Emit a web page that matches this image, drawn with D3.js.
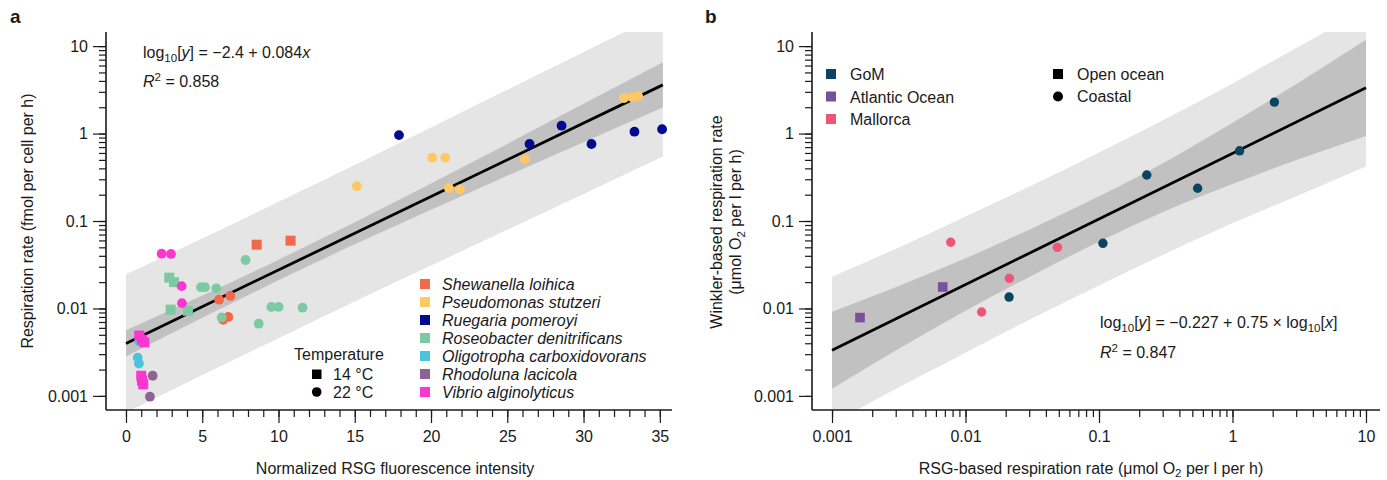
<!DOCTYPE html>
<html>
<head>
<meta charset="utf-8">
<script src="https://cdn.jsdelivr.net/npm/d3@7"></script>
<style>
body { margin: 0; background: #fff; }
text { font-family: "Liberation Sans", Arial, Helvetica, sans-serif; fill: #1a1a1a; }
</style>
</head>
<body>
<div id="chart"></div>
<script>
// ---- panel a data: [fluorescence, respiration, temperature] ----
const species = ["Shewanella loihica", "Pseudomonas stutzeri", "Ruegaria pomeroyi", "Roseobacter denitrificans",
                 "Oligotropha carboxidovorans", "Rhodoluna lacicola", "Vibrio alginolyticus"];
const speciesColors = ["#f0694a", "#fec862", "#000b92", "#7dcaa2", "#4cc3dc", "#8e6394", "#fb35cf"];

const shewanellaPts = [[8.57, 0.0536, 14], [10.79, 0.0596, 14], [6.10, 0.0126, 22], [6.84, 0.0139, 22],
                       [6.38, 0.0074, 22], [6.71, 0.0080, 22]];
const pseudomonasPts = [[15.14, 0.25, 22], [20.08, 0.53, 22], [20.93, 0.53, 22], [21.17, 0.238, 22],
                        [21.89, 0.23, 22], [26.15, 0.51, 22], [32.66, 2.55, 22], [33.19, 2.6, 22], [33.58, 2.68, 22]];
const ruegeriaPts = [[17.9, 0.96, 22], [26.46, 0.76, 22], [28.56, 1.23, 22], [30.52, 0.76, 22],
                     [33.34, 1.05, 22], [35.15, 1.12, 22]];
const roseobacterPts = [[2.84, 0.0225, 14], [3.15, 0.020, 14], [2.93, 0.0097, 14], [4.06, 0.0094, 14],
                        [7.84, 0.0358, 22], [4.92, 0.0175, 22], [5.18, 0.0175, 22], [5.92, 0.017, 22],
                        [6.27, 0.0079, 22], [8.70, 0.0067, 22], [9.53, 0.0104, 22], [10.01, 0.0104, 22], [11.58, 0.0102, 22]];
const oligotrophaPts = [[0.77, 0.00274, 22], [0.85, 0.00234, 22], [0.87, 0.0042, 22]];
const rhodolunaPts = [[1.75, 0.0017, 22], [1.57, 0.00098, 22]];
const vibrioPts = [[2.34, 0.0423, 22], [2.95, 0.042, 22], [3.65, 0.018, 22], [3.67, 0.0115, 22],
                   [0.87, 0.0049, 14], [1.05, 0.0044, 14], [1.2, 0.0041, 14],
                   [1.0, 0.0017, 14], [1.05, 0.0015, 14], [1.13, 0.00136, 14]];
const speciesPts = [shewanellaPts, pseudomonasPts, ruegeriaPts, roseobacterPts, oligotrophaPts, rhodolunaPts, vibrioPts];

// fit a: log10[y] = -2.4 + 0.084x, band half widths (in decades)
const fitA = {a: -2.4, b: 0.084};
const bandAx = [0, 5, 10, 15, 20, 25, 30, 35.2];
const bandAconf = [0.15, 0.127, 0.118, 0.127, 0.15, 0.182, 0.22, 0.26];
const bandApred = [0.79, 0.78, 0.78, 0.78, 0.79, 0.80, 0.81, 0.82];

const xTicksA = [0, 5, 10, 15, 20, 25, 30, 35];
const yTickVals = [0.001, 0.01, 0.1, 1, 10];
const yTickLabels = ["0.001", "0.01", "0.1", "1", "10"];

// ---- panel b data: [RSG-based, Winkler-based, site type] ----
const sites = ["GoM", "Atlantic Ocean", "Mallorca"];
const siteColors = ["#0b4462", "#7b509b", "#ef5676"];
const gomPts = [[0.0212, 0.0135, "coastal"], [0.107, 0.0556, "coastal"], [0.228, 0.336, "coastal"],
                [0.548, 0.237, "coastal"], [1.13, 0.635, "coastal"], [2.06, 2.29, "coastal"]];
const atlanticPts = [[0.00162, 0.00786, "open"], [0.00675, 0.0176, "open"]];
const mallorcaPts = [[0.00775, 0.0571, "coastal"], [0.0132, 0.00912, "coastal"], [0.0213, 0.0221, "coastal"],
                     [0.0488, 0.05, "coastal"]];
const sitePts = [gomPts, atlanticPts, mallorcaPts];

const fitB = {a: -0.227, b: 0.75};
const bandBlogx = [-3, -2.5, -2, -1.5, -1, -0.5, 0, 0.5, 1];
const bandBconf = [0.44, 0.36, 0.30, 0.27, 0.26, 0.28, 0.35, 0.44, 0.55];
const bandBpred = [0.84, 0.80, 0.78, 0.76, 0.76, 0.77, 0.80, 0.85, 0.90];
const xTickValsB = [0.001, 0.01, 0.1, 1, 10];
const xTickLabelsB = ["0.001", "0.01", "0.1", "1", "10"];

const W = 1387, H = 480;
const FS = 16, SUB = 11.5;
const svg = d3.select("#chart").append("svg").attr("width", W).attr("height", H);

const plotTop = 32, plotBottom = 410;
const yScale = d3.scaleLog().domain([0.00069, 14.5]).range([plotBottom, plotTop]);
const xA = d3.scaleLinear().domain([-1.31, 35.8]).range([106, 672]);
const xB = d3.scaleLog().domain([Math.pow(10, -3.15), Math.pow(10, 1.105)]).range([812, 1380]);

const minorLog = [];
for (let e = -3; e <= 1; e++) for (let m = 1; m <= 9; m++) minorLog.push(m * Math.pow(10, e));

const defs = svg.append("defs");
defs.append("clipPath").attr("id", "clipA").append("rect")
	.attr("x", 106).attr("y", plotTop).attr("width", 566).attr("height", plotBottom - plotTop);
defs.append("clipPath").attr("id", "clipB").append("rect")
	.attr("x", 812).attr("y", plotTop).attr("width", 568).attr("height", plotBottom - plotTop);

function drawYAxis(x) {
	let minor = svg.append("g").attr("transform", "translate(" + x + ",0)")
		.call(d3.axisLeft(yScale).tickValues(minorLog.filter(v => v >= 0.00069 && v <= 14.5)).tickSize(7).tickFormat(""));
	minor.select(".domain").remove();
	let major = svg.append("g").attr("transform", "translate(" + x + ",0)")
		.call(d3.axisLeft(yScale).tickValues(yTickVals).tickSize(13).tickPadding(5)
			.tickFormat((d, i) => yTickLabels[i]));
	major.select(".domain").attr("d", "M0," + plotTop + "V" + plotBottom);
	svg.selectAll(".tick line").attr("stroke", "#1a1a1a").attr("stroke-width", 1.2);
	major.selectAll("text").attr("font-size", FS).attr("fill", "#1a1a1a");
	major.select(".domain").attr("stroke", "#1a1a1a").attr("stroke-width", 1.6);
}

// ================= panel a =================
let gA = svg.append("g").attr("clip-path", "url(#clipA)");
let bandA = bandAx.map((x, i) => ({x: x, c: bandAconf[i], p: bandApred[i]}));
let yFitA = x => Math.pow(10, fitA.a + fitA.b * x);
gA.append("path").datum(bandA)
	.attr("d", d3.area().x(d => xA(d.x))
		.y0(d => yScale(yFitA(d.x) / Math.pow(10, d.p))).y1(d => yScale(yFitA(d.x) * Math.pow(10, d.p)))
		.curve(d3.curveMonotoneX))
	.attr("fill", "#e5e5e5");
gA.append("path").datum(bandA)
	.attr("d", d3.area().x(d => xA(d.x))
		.y0(d => yScale(yFitA(d.x) / Math.pow(10, d.c))).y1(d => yScale(yFitA(d.x) * Math.pow(10, d.c)))
		.curve(d3.curveMonotoneX))
	.attr("fill", "#c1c1c1");
gA.append("path").datum([0, 35.2])
	.attr("d", d3.line().x(d => xA(d)).y(d => yScale(yFitA(d))))
	.attr("stroke", "#000").attr("stroke-width", 2.8).attr("fill", "none");

speciesPts.forEach((pts, i) => {
	let g = svg.append("g");
	g.selectAll("circle").data(pts.filter(p => p[2] == 22)).enter().append("circle")
		.attr("cx", d => xA(d[0])).attr("cy", d => yScale(d[1])).attr("r", 4.9)
		.attr("fill", speciesColors[i]);
	g.selectAll("rect").data(pts.filter(p => p[2] == 14)).enter().append("rect")
		.attr("x", d => xA(d[0]) - 5).attr("y", d => yScale(d[1]) - 5).attr("width", 10).attr("height", 10)
		.attr("fill", speciesColors[i]);
});

// axes a
let xAxA = svg.append("g").attr("transform", "translate(0," + plotBottom + ")")
	.call(d3.axisBottom(xA).tickValues(d3.range(0, 36)).tickSize(7).tickFormat(""));
xAxA.select(".domain").remove();
let xMajA = svg.append("g").attr("transform", "translate(0," + plotBottom + ")")
	.call(d3.axisBottom(xA).tickValues(xTicksA).tickSize(13).tickPadding(8));
xMajA.select(".domain").attr("d", "M106,0H672").attr("stroke", "#1a1a1a").attr("stroke-width", 1.6);
xMajA.selectAll("text").attr("font-size", FS).attr("fill", "#1a1a1a");
drawYAxis(106);

svg.append("text").attr("x", 395).attr("y", 474).attr("text-anchor", "middle").attr("font-size", FS)
	.text("Normalized RSG fluorescence intensity");
svg.append("text").attr("transform", "translate(33,221) rotate(-90)").attr("text-anchor", "middle")
	.attr("font-size", FS).text("Respiration rate (fmol per cell per h)");

// equation a
let eqA = svg.append("text").attr("x", 143).attr("y", 58).attr("font-size", FS);
eqA.append("tspan").text("log");
eqA.append("tspan").attr("font-size", SUB).attr("dy", 4).text("10");
eqA.append("tspan").attr("dy", -4).text("[");
eqA.append("tspan").attr("font-style", "italic").text("y");
eqA.append("tspan").text("] = \u22122.4 + 0.084");
eqA.append("tspan").attr("font-style", "italic").text("x");
let r2A = svg.append("text").attr("x", 143).attr("y", 87).attr("font-size", FS);
r2A.append("tspan").attr("font-style", "italic").text("R");
r2A.append("tspan").attr("font-size", SUB).attr("dy", -6).text("2");
r2A.append("tspan").attr("dy", 6).text(" = 0.858");

// species legend
let legA = svg.append("g");
species.forEach((s, i) => {
	legA.append("rect").attr("x", 420).attr("y", 279 + i * 18).attr("width", 10).attr("height", 10)
		.attr("fill", speciesColors[i]);
	legA.append("text").attr("x", 442).attr("y", 289.5 + i * 18).attr("font-size", FS)
		.attr("font-style", "italic").text(s);
});
svg.append("text").attr("x", 294).attr("y", 360).attr("font-size", FS).text("Temperature");
svg.append("rect").attr("x", 312).attr("y", 369.5).attr("width", 9.5).attr("height", 9.5).attr("fill", "#000");
svg.append("text").attr("x", 333).attr("y", 379.5).attr("font-size", FS).text("14 \u00b0C");
svg.append("circle").attr("cx", 316.7).attr("cy", 392).attr("r", 4.8).attr("fill", "#000");
svg.append("text").attr("x", 333).attr("y", 397.5).attr("font-size", FS).text("22 \u00b0C");

// ================= panel b =================
let gB = svg.append("g").attr("clip-path", "url(#clipB)");
let bandB = bandBlogx.map((lx, i) => ({x: Math.pow(10, lx), c: bandBconf[i], p: bandBpred[i]}));
let yFitB = x => Math.pow(10, fitB.a + fitB.b * Math.log10(x));
gB.append("path").datum(bandB)
	.attr("d", d3.area().x(d => xB(d.x))
		.y0(d => yScale(yFitB(d.x) / Math.pow(10, d.p))).y1(d => yScale(yFitB(d.x) * Math.pow(10, d.p)))
		.curve(d3.curveMonotoneX))
	.attr("fill", "#e5e5e5");
gB.append("path").datum(bandB)
	.attr("d", d3.area().x(d => xB(d.x))
		.y0(d => yScale(yFitB(d.x) / Math.pow(10, d.c))).y1(d => yScale(yFitB(d.x) * Math.pow(10, d.c)))
		.curve(d3.curveMonotoneX))
	.attr("fill", "#c1c1c1");
gB.append("path").datum([0.001, 10])
	.attr("d", d3.line().x(d => xB(d)).y(d => yScale(yFitB(d))))
	.attr("stroke", "#000").attr("stroke-width", 2.8).attr("fill", "none");

sitePts.forEach((pts, i) => {
	let g = svg.append("g");
	g.selectAll("circle").data(pts.filter(p => p[2] == "coastal")).enter().append("circle")
		.attr("cx", d => xB(d[0])).attr("cy", d => yScale(d[1])).attr("r", 4.7)
		.attr("fill", siteColors[i]);
	g.selectAll("rect").data(pts.filter(p => p[2] == "open")).enter().append("rect")
		.attr("x", d => xB(d[0]) - 4.8).attr("y", d => yScale(d[1]) - 4.8).attr("width", 9.6).attr("height", 9.6)
		.attr("fill", siteColors[i]);
});

let xAxB = svg.append("g").attr("transform", "translate(0," + plotBottom + ")")
	.call(d3.axisBottom(xB).tickValues(minorLog.filter(v => v <= 12)).tickSize(7).tickFormat(""));
xAxB.select(".domain").remove();
let xMajB = svg.append("g").attr("transform", "translate(0," + plotBottom + ")")
	.call(d3.axisBottom(xB).tickValues(xTickValsB).tickSize(13).tickPadding(8)
		.tickFormat((d, i) => xTickLabelsB[i]));
xMajB.select(".domain").attr("d", "M812,0H1380").attr("stroke", "#1a1a1a").attr("stroke-width", 1.6);
xMajB.selectAll("text").attr("font-size", FS).attr("fill", "#1a1a1a");
drawYAxis(812);

let xlabB = svg.append("text").attr("x", 1091).attr("y", 474).attr("text-anchor", "middle").attr("font-size", FS);
xlabB.append("tspan").text("RSG-based respiration rate (\u03bcmol O");
xlabB.append("tspan").attr("font-size", SUB).attr("dy", 3).text("2");
xlabB.append("tspan").attr("dy", -3).text(" per l per h)");

svg.append("text").attr("transform", "translate(722,222) rotate(-90)").attr("text-anchor", "middle")
	.attr("font-size", FS).text("Winkler-based respiration rate");
let ylabB = svg.append("text").attr("transform", "translate(741,222) rotate(-90)").attr("text-anchor", "middle")
	.attr("font-size", FS);
ylabB.append("tspan").text("(\u03bcmol O");
ylabB.append("tspan").attr("font-size", SUB).attr("dy", 4).text("2");
ylabB.append("tspan").attr("dy", -4).text(" per l per h)");

// site legend
sites.forEach((s, i) => {
	svg.append("rect").attr("x", 826).attr("y", 69 + i * 22.5).attr("width", 10).attr("height", 10)
		.attr("fill", siteColors[i]);
	svg.append("text").attr("x", 850).attr("y", 80 + i * 22.5).attr("font-size", FS).text(s);
});
svg.append("rect").attr("x", 1053).attr("y", 69).attr("width", 10).attr("height", 10).attr("fill", "#000");
svg.append("text").attr("x", 1077).attr("y", 80).attr("font-size", FS).text("Open ocean");
svg.append("circle").attr("cx", 1058).attr("cy", 96.5).attr("r", 5).attr("fill", "#000");
svg.append("text").attr("x", 1077).attr("y", 102).attr("font-size", FS).text("Coastal");

// equation b
let eqB = svg.append("text").attr("x", 1100).attr("y", 328).attr("font-size", FS);
eqB.append("tspan").text("log");
eqB.append("tspan").attr("font-size", SUB).attr("dy", 4).text("10");
eqB.append("tspan").attr("dy", -4).text("[");
eqB.append("tspan").attr("font-style", "italic").text("y");
eqB.append("tspan").text("] = \u22120.227 + 0.75 \u00d7 log");
eqB.append("tspan").attr("font-size", SUB).attr("dy", 4).text("10");
eqB.append("tspan").attr("dy", -4).text("[");
eqB.append("tspan").attr("font-style", "italic").text("x");
eqB.append("tspan").text("]");
let r2B = svg.append("text").attr("x", 1100).attr("y", 358).attr("font-size", FS);
r2B.append("tspan").attr("font-style", "italic").text("R");
r2B.append("tspan").attr("font-size", SUB).attr("dy", -6).text("2");
r2B.append("tspan").attr("dy", 6).text(" = 0.847");

// panel letters
svg.append("text").attr("x", 10).attr("y", 23).attr("font-size", 19).attr("font-weight", "bold").text("a");
svg.append("text").attr("x", 705).attr("y", 23).attr("font-size", 19).attr("font-weight", "bold").text("b");
</script>
</body>
</html>
